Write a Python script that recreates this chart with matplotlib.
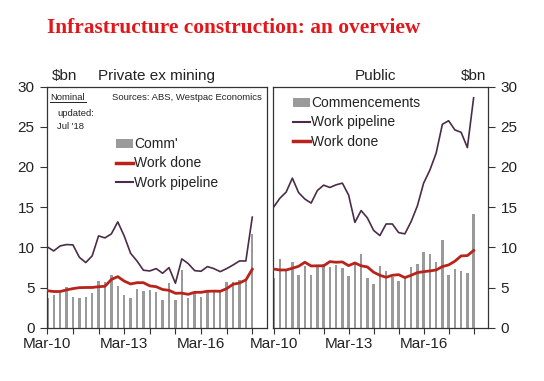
import numpy as np
import matplotlib
matplotlib.use("Agg")
import matplotlib.pyplot as plt
from matplotlib.lines import Line2D
from matplotlib.patches import Patch

plt.rcParams['font.family'] = ['Liberation Sans', 'DejaVu Sans']

# Quarterly data, Mar-10 .. Mar-18 ($bn, nominal)
quarters = ['Mar-10', 'Jun-10', 'Sep-10', 'Dec-10', 'Mar-11', 'Jun-11', 'Sep-11', 'Dec-11',
            'Mar-12', 'Jun-12', 'Sep-12', 'Dec-12', 'Mar-13', 'Jun-13', 'Sep-13', 'Dec-13',
            'Mar-14', 'Jun-14', 'Sep-14', 'Dec-14', 'Mar-15', 'Jun-15', 'Sep-15', 'Dec-15',
            'Mar-16', 'Jun-16', 'Sep-16', 'Dec-16', 'Mar-17', 'Jun-17', 'Sep-17', 'Dec-17',
            'Mar-18']

# Private ex mining
priv_comm = [3.7, 4.07, 4.36, 5.07, 3.82, 3.7, 3.82, 4.36, 5.8, 5.7, 6.56, 5.2, 4.07, 3.7,
             4.8, 4.6, 4.7, 4.45, 3.5, 5.5, 3.5, 7.2, 3.75, 4.45, 3.8, 4.7, 4.5, 4.7, 5.65,
             5.7, 5.95, 6.07, 11.67]
priv_done = [4.6, 4.5, 4.5, 4.7, 4.86, 4.98, 5.0, 5.0, 5.1, 5.15, 6.0, 6.35, 5.8, 5.44,
             5.6, 5.6, 5.2, 5.1, 4.75, 4.65, 4.28, 4.3, 4.15, 4.4, 4.4, 4.53, 4.55, 4.53,
             4.86, 5.4, 5.56, 5.94, 7.27]
priv_pipe = [10.05, 9.55, 10.17, 10.34, 10.3, 8.76, 8.1, 8.93, 11.42, 11.17, 11.67, 13.16,
             11.42, 9.26, 8.3, 7.15, 7.06, 7.35, 6.77, 7.47, 5.53, 8.56, 7.97, 7.1, 7.02,
             7.6, 7.35, 6.97, 7.35, 7.8, 8.3, 8.3, 13.75]

# Public
pub_comm = [6.23, 8.6, 7.1, 8.2, 6.6, 7.7, 6.56, 7.7, 7.9, 7.6, 7.85, 7.47, 6.48, 7.9, 9.2,
            6.23, 5.46, 7.7, 7.06, 6.35, 5.82, 6.15, 7.56, 7.93, 9.43, 9.18, 8.18, 10.92,
            6.56, 7.3, 7.06, 6.81, 14.16]
pub_done = [7.3, 7.18, 7.18, 7.39, 7.64, 8.14, 7.68, 7.7, 7.7, 8.22, 8.14, 8.18, 7.72, 8.05,
            7.7, 7.56, 6.9, 6.52, 6.27, 6.52, 6.6, 6.23, 6.52, 6.85, 6.97, 7.06, 7.18, 7.6,
            7.81, 8.27, 8.93, 8.97, 9.6]
pub_pipe = [15.0, 16.1, 16.86, 18.6, 16.8, 16.0, 15.5, 17.06, 17.73, 17.44, 17.77, 17.98,
            16.5, 13.1, 14.57, 13.66, 12.1, 11.46, 12.9, 12.9, 11.83, 11.67, 13.2, 15.15,
            17.98, 19.6, 21.7, 25.3, 25.74, 24.6, 24.3, 22.4, 28.6]

bar_col = '#9a9a9a'
done_col = '#b8241c'
pipe_col = '#4b2c48'
text_col = '#222222'

W, H = 544, 381
fig = plt.figure(figsize=(W / 100, H / 100), dpi=100)


def px(x0, y0, x1, y1):
    return [x0 / W, 1 - y1 / H, (x1 - x0) / W, (y1 - y0) / H]


ax1 = fig.add_axes(px(47, 86.5, 267, 327.7))
ax2 = fig.add_axes(px(273.3, 86.5, 488, 327.7))

x = np.arange(len(quarters))
for ax, comm, done, pipe in [(ax1, priv_comm, priv_done, priv_pipe),
                             (ax2, pub_comm, pub_done, pub_pipe)]:
    ax.bar(x, comm, width=0.38, color=bar_col, zorder=1)
    ax.plot(x, pipe, color=pipe_col, lw=1.2, zorder=3)
    ax.plot(x, done, color=done_col, lw=2.0, zorder=4)
    ax.set_xlim(-0.05, 34.3)
    ax.set_ylim(0, 30)
    ax.set_yticks(range(0, 31, 5))
    ticks = list(range(0, 33, 4))
    ax.set_xticks(ticks)
    ax.set_xticklabels([quarters[t] if t % 12 == 0 else '' for t in ticks])
    ax.tick_params(axis='x', length=4, width=0.8, color='#333333', labelsize=11,
                   labelcolor=text_col, pad=3)
    ax.tick_params(axis='y', length=5, width=0.8, color='#333333', labelsize=11,
                   labelcolor=text_col, pad=4)
    for s in ax.spines.values():
        s.set_color('#333333')
        s.set_linewidth(0.9)

ax2.yaxis.tick_right()

fig.text(47 / W, 1 - 28 / H, 'Infrastructure construction: an overview',
         family='Liberation Serif', weight='bold', color='#e3171b', fontsize=15.4,
         va='center', ha='left')

fig.text(52 / W, 1 - 76 / H, r'\$bn', fontsize=11, color=text_col, va='center')
fig.text(157 / W, 1 - 76 / H, 'Private ex mining', fontsize=11, color=text_col,
         va='center', ha='center')
fig.text(376 / W, 1 - 76 / H, 'Public', fontsize=11, color=text_col, va='center', ha='center')
fig.text(474 / W, 1 - 76 / H, r'\$bn', fontsize=11, color=text_col, va='center', ha='center')

fig.text(50 / W, 1 - 97 / H, 'Nominal', fontsize=6.8, color=text_col, va='center')
fig.lines.append(Line2D([50 / W, 86 / W], [1 - 102 / H, 1 - 102 / H], color=text_col,
                        lw=0.7, transform=fig.transFigure))
fig.text(262 / W, 1 - 97 / H, 'Sources: ABS, Westpac Economics', fontsize=6.8,
         color=text_col, va='center', ha='right')
fig.text(57 / W, 1 - 114 / H, 'updated:', fontsize=6.8, color=text_col, va='center')
fig.text(57 / W, 1 - 127 / H, "Jul '18", fontsize=6.8, color=text_col, va='center')

h_comm = Patch(facecolor=bar_col, edgecolor='none')
h_done = Line2D([], [], color=done_col, lw=2.5)
h_pipe = Line2D([], [], color=pipe_col, lw=1.5)

leg_kw = dict(frameon=False, fontsize=10, handlelength=1.2, handleheight=0.6,
              handletextpad=0.1, labelspacing=0.38, borderaxespad=0, borderpad=0,
              labelcolor=text_col)
ax1.legend([h_comm, h_done, h_pipe], ["Comm'", 'Work done', 'Work pipeline'],
           loc='upper left', bbox_to_anchor=(116 / W, 1 - 137 / H),
           bbox_transform=fig.transFigure, **leg_kw)
ax2.legend([h_comm, h_pipe, h_done], ['Commencements', 'Work pipeline', 'Work done'],
           loc='upper left', bbox_to_anchor=(293 / W, 1 - 96 / H),
           bbox_transform=fig.transFigure, **leg_kw)

fig.savefig('out.png', dpi=100)
